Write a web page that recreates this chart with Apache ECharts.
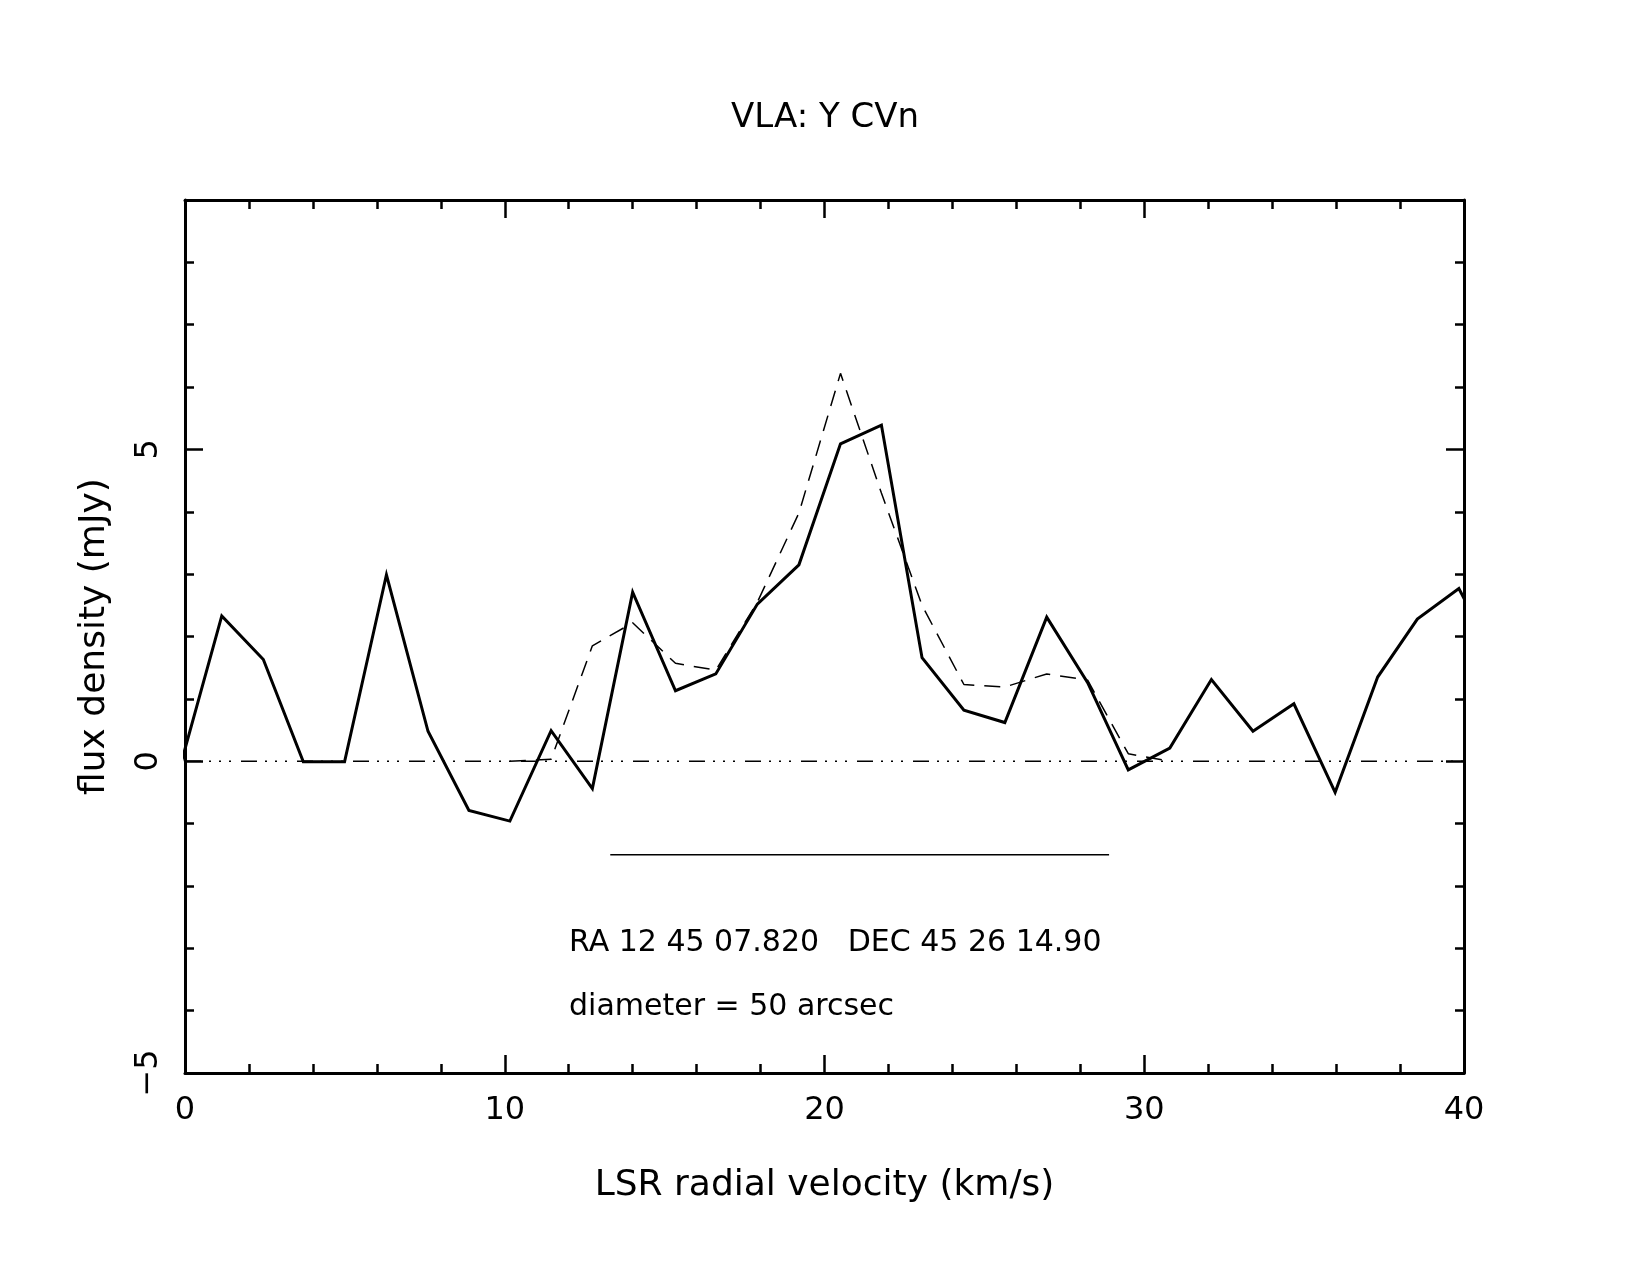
<!DOCTYPE html>
<html>
<head>
<meta charset="utf-8">
<title>VLA: Y CVn</title>
<script src="https://cdn.jsdelivr.net/npm/echarts@6/dist/echarts.min.js"></script>
<style>
    html, body { margin: 0; padding: 0; background: #fff; }
    #chart { width: 1650px; height: 1275px; }
</style>
</head>
<body>
<div id="chart"></div>
<script>
// channel velocities (km/s) and measured flux (mJy)
var velocity = [-0.14, 1.15, 2.45, 3.7, 4.99, 6.3, 7.6, 8.88, 10.16, 11.45, 12.74, 14.0, 15.34, 16.6,
    17.9, 19.2, 20.5, 21.78, 23.05, 24.36, 25.64, 26.95, 28.23, 29.5, 30.8, 32.1, 33.4, 34.68,
    35.97, 37.3, 38.54, 39.84, 41.13];
var fluxSolid = [-0.06, 2.33, 1.63, -0.01, -0.01, 2.99, 0.48, -0.79, -0.96, 0.49, -0.44, 2.71, 1.13, 1.4,
    2.52, 3.15, 5.09, 5.39, 1.66, 0.82, 0.62, 2.31, 1.26, -0.14, 0.21, 1.31, 0.48, 0.92,
    -0.5, 1.35, 2.28, 2.77, 1.5];

// fitted profile (dashed)
var velocityFit = [10.16, 11.45, 12.74, 14.0, 15.34, 16.6, 17.9, 19.2, 20.5, 21.78, 23.05, 24.36,
    25.64, 26.95, 28.23, 29.5, 30.8];
var fluxFit = [0.0, 0.03, 1.85, 2.22, 1.57, 1.46, 2.55, 3.98, 6.22, 4.3, 2.5, 1.23,
    1.19, 1.4, 1.3, 0.12, 0.0];

// baseline and the velocity range bar
var baseline = [[0, 0], [40, 0]];
var rangeBar = [[13.3, -1.5], [28.9, -1.5]];

var xTicks = [0, 10, 20, 30, 40];
var yTicks = [-5, 0, 5];

var titleText = "VLA: Y CVn";
var xName = "LSR radial velocity (km/s)";
var yName = "flux density (mJy)";
var noteLines = ["RA 12 45 07.820   DEC 45 26 14.90", "diameter = 50 arcsec"];

var FONT = "DejaVu Sans";

function pairs(xs, ys) {
    var out = [];
    for (var i = 0; i < xs.length; i++) {
        out.push([xs[i], ys[i]]);
    }
    return out;
}

function yLabel(v) {
    if (yTicks.indexOf(v) < 0) return "";
    return v < 0 ? "\u2212" + Math.abs(v) : String(v);
}

function xAxisOf(pos, showLabel) {
    return {
        type: "value",
        position: pos,
        min: 0,
        max: 40,
        interval: 10,
        splitLine: {show: false},
        axisLine: {show: true, onZero: false, lineStyle: {color: "#000", width: 3}},
        axisTick: {show: true, inside: true, length: 18, lineStyle: {color: "#000", width: 2.5}},
        minorTick: {show: true, splitNumber: 5, length: 9, lineStyle: {color: "#000", width: 2.5}},
        axisLabel: {
            show: showLabel,
            margin: 22,
            color: "#000",
            fontFamily: FONT,
            fontSize: 32,
            formatter: function (v) {
                return xTicks.indexOf(v) >= 0 ? String(v) : "";
            }
        },
        name: showLabel ? xName : "",
        nameLocation: "middle",
        nameGap: 95,
        nameTextStyle: {color: "#000", fontFamily: FONT, fontSize: 36}
    };
}

// minor ticks every 1 mJy, major every 5 (two overlaid axes per side)
function yAxisOf(pos, major, showLabel) {
    return {
        type: "value",
        position: pos,
        min: -5,
        max: 9,
        interval: major ? 5 : 1,
        splitLine: {show: false},
        axisLine: {show: !major, onZero: false, lineStyle: {color: "#000", width: 3}},
        axisTick: {show: true, inside: true, length: major ? 18 : 9, lineStyle: {color: "#000", width: 2.5}},
        axisLabel: {
            show: showLabel,
            rotate: 90,
            margin: 20,
            color: "#000",
            fontFamily: FONT,
            fontSize: 32,
            formatter: yLabel
        },
        name: showLabel ? yName : "",
        nameLocation: "middle",
        nameRotate: 90,
        nameGap: 72,
        nameTextStyle: {color: "#000", fontFamily: FONT, fontSize: 36}
    };
}

var chart = echarts.init(document.getElementById("chart"));

var option = {
    backgroundColor: "#fff",
    animation: false,
    title: {
        text: titleText,
        left: "center",
        top: 96,
        textStyle: {color: "#000", fontFamily: FONT, fontSize: 34, fontWeight: "normal"}
    },
    grid: {left: 185, right: 186, top: 200, bottom: 202},
    xAxis: [xAxisOf("bottom", true), xAxisOf("top", false)],
    yAxis: [
        yAxisOf("left", false, true),
        yAxisOf("left", true, false),
        yAxisOf("right", false, false),
        yAxisOf("right", true, false)
    ],
    graphic: [
        {
            type: "text", x: 569, y: 943,
            style: {text: noteLines[0], font: "30px " + FONT, fill: "#000", verticalAlign: "middle"}
        },
        {
            type: "text", x: 569, y: 1007,
            style: {text: noteLines[1], font: "30px " + FONT, fill: "#000", verticalAlign: "middle"}
        }
    ],
    series: [
        {
            type: "line",
            data: baseline,
            symbol: "none",
            z: 1,
            lineStyle: {color: "#000", width: 1.5, type: [16, 8, 2, 8, 2, 8, 2, 10]}
        },
        {
            type: "line",
            data: rangeBar,
            symbol: "none",
            z: 1,
            lineStyle: {color: "#000", width: 1.5}
        },
        {
            type: "line",
            data: pairs(velocityFit, fluxFit),
            symbol: "none",
            z: 2,
            lineStyle: {color: "#000", width: 1.5, type: [16, 10]}
        },
        {
            type: "line",
            data: pairs(velocity, fluxSolid),
            symbol: "none",
            clip: true,
            z: 3,
            lineStyle: {color: "#000", width: 3, join: "miter"}
        }
    ]
};

chart.setOption(option);
</script>
</body>
</html>
